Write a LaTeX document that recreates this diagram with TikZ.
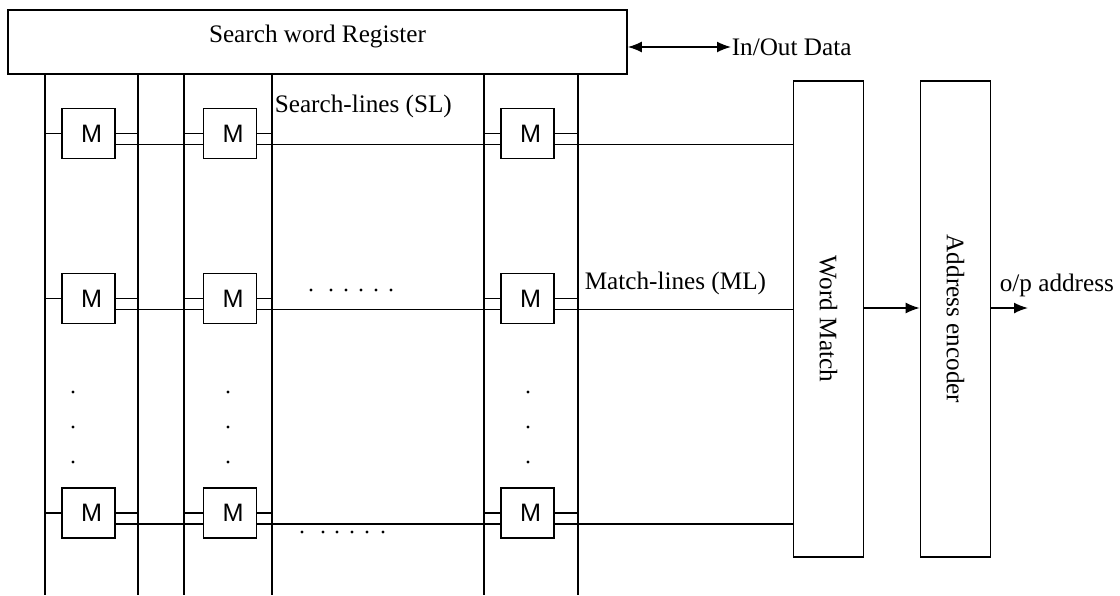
\documentclass[tikz,border=0pt]{standalone}
\usepackage{fontspec}
\setmainfont{Liberation Serif}
\setsansfont{Liberation Sans}
\usepackage{tikz}
\usetikzlibrary{positioning}
\usetikzlibrary{arrows.meta,calc}

\tikzset{
  cell/.style={draw, inner sep=0pt, minimum width=26.5pt, minimum height=25pt, font=\sffamily\fontsize{12.6}{14}\selectfont},
  block/.style={draw, inner sep=0pt, minimum width=35pt, minimum height=238pt},
  lbl/.style={inner sep=0pt, anchor=west},
  tip/.style={-{Latex[length=7pt,width=5.5pt]}}
}

\begin{document}
\begin{tikzpicture}[x=0.5pt, y=-0.5pt, line width=0.8pt, font=\fontsize{12.6}{15}\selectfont]
    \useasboundingbox (0,0) rectangle (1120,595);

    % register on top
    \node[draw, inner sep=0pt, minimum width=309.5pt, minimum height=32pt, text height=9pt, text depth=9pt] (reg) at (317.5,42) {Search word Register};
    \node[lbl] (io) at (731,47) {In/Out Data};
    \draw[{Latex[length=7pt,width=5.5pt]}-{Latex[length=7pt,width=5.5pt]}] (reg.east |- io.west) -- (io.west);

    % search lines
    \foreach \x/\id in {45/1, 138/2, 184/3, 272/4, 484/5, 578/6}
        \coordinate (sl\id) at (\x,595);
    \foreach \id in {1,...,6}
        \draw (sl\id |- reg.south) -- (sl\id);

    % word match and encoder
    \node[block] (wm) at (828.5,319) {\rotatebox{-90}{Word Match}};
    \node[block] (ae) at (955.5,319) {\rotatebox{-90}{Address encoder}};

    % cells
    \foreach \r/\y in {1/133.5, 2/298.5, 3/513}
    {
        \foreach \c/\x/\a/\b in {1/88.5/1/2, 2/230/3/4, 3/527.5/5/6}
        {
            \node[cell] (m\r\c) at (\x,\y) {\hspace{3pt}M};
            \draw (m\r\c.west) -- (m\r\c.west -| sl\a);
            \draw (m\r\c.east) -- (m\r\c.east -| sl\b);
        }
        % match line
        \draw ([yshift=-5.5pt]m\r1.east) -- ([yshift=-5.5pt]m\r2.west);
        \draw ([yshift=-5.5pt]m\r2.east) -- ([yshift=-5.5pt]m\r3.west);
        \draw ([yshift=-5.5pt]m\r3.east) -- ([yshift=-5.5pt]m\r3.east -| wm.west);
    }

    \draw[tip] ([yshift=5.5pt]wm.east) -- ([yshift=5.5pt]wm.east -| ae.west);
    \coordinate (out) at (1028,308);
    \draw[tip] (ae.east |- out) -- (out);

    % labels
    \node[lbl] (sl) at (274,106) {Search-lines (SL)};
    \node[lbl] (ml) at (584,283) {Match-lines (ML)};
    \node[lbl] (op) at (999,285) {o/p address};

    % dots
    \foreach \x in {311,331,346,361,376,391}
        \fill (\x,290) circle (0.8pt);
    \foreach \x in {302,323,337,352,367,383}
        \fill (\x,532) circle (0.8pt);
    \foreach \x in {73,228,528}
        \foreach \y in {392,427,462}
            \fill (\x,\y) circle (0.8pt);

\end{tikzpicture}
\end{document}
